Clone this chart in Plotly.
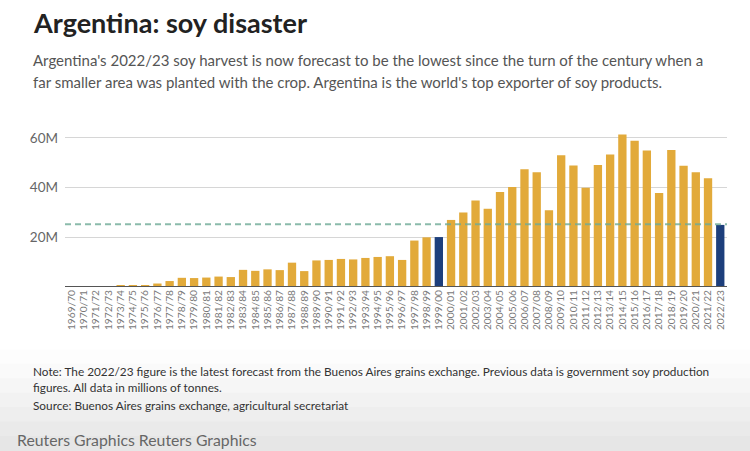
import plotly.graph_objects as go

seasons = ["1969/70","1970/71","1971/72","1972/73","1973/74","1974/75","1975/76","1976/77",
           "1977/78","1978/79","1979/80","1980/81","1981/82","1982/83","1983/84","1984/85",
           "1985/86","1986/87","1987/88","1988/89","1989/90","1990/91","1991/92","1992/93",
           "1993/94","1994/95","1995/96","1996/97","1997/98","1998/99","1999/00","2000/01",
           "2001/02","2002/03","2003/04","2004/05","2005/06","2006/07","2007/08","2008/09",
           "2009/10","2010/11","2011/12","2012/13","2013/14","2014/15","2015/16","2016/17",
           "2017/18","2018/19","2019/20","2020/21","2021/22","2022/23"]
production = [0.03, 0.06, 0.08, 0.1, 0.5, 0.5, 0.7, 1.4, 2.4, 3.7, 3.6, 3.8, 4.2, 4.0,
              6.9, 6.5, 7.1, 6.8, 9.8, 6.4, 10.7, 10.9, 11.3, 11.1, 11.7, 12.1, 12.4, 10.9,
              18.7, 20.0, 20.1, 27.0, 30.0, 34.8, 31.5, 38.2, 40.3, 47.4, 46.2, 30.9, 53.0,
              48.9, 40.0, 49.1, 53.3, 61.4, 58.9, 55.0, 37.8, 55.2, 48.8, 46.2, 43.8, 25.0]
highlight = ["1999/00", "2022/23"]
reference_level = 25.3
y_ticks = [20, 40, 60]
y_tick_labels = ["20M", "40M", "60M"]

GOLD = "#E2AA3A"
BLUE = "#1D3F7C"
colors = [BLUE if s in highlight else GOLD for s in seasons]

W, H = 750, 451
ML, MR, MT, MB = 65, 23, 133, 164
PW, PH = W - ML - MR, H - MT - MB

def px_x(x):
    return (x - ML) / PW

def px_y(y):
    return (H - MB - y) / PH

fig = go.Figure()
fig.add_trace(go.Bar(x=seasons, y=production, marker=dict(color=colors, line=dict(width=0)),
                     hoverinfo="x+y"))

FONT = "Lato"
fig.update_layout(
    width=W, height=H,
    margin=dict(l=ML, r=MR, t=MT, b=MB, autoexpand=False),
    paper_bgcolor="white", plot_bgcolor="white",
    bargap=0.32,
    showlegend=False,
    font=dict(family=FONT, color="#666"),
    xaxis=dict(type="category", range=[-0.55, 53.55], tickangle=-90,
               tickmode="array", tickvals=seasons, ticktext=seasons,
               tickfont=dict(size=10.2, color="#777", family=FONT),
               showgrid=False, ticks="", showline=False, zeroline=False, automargin=False),
    yaxis=dict(range=[0, 62], tickvals=y_ticks, ticktext=y_tick_labels,
               tickfont=dict(size=13.5, color="#666", family=FONT),
               showgrid=True, gridcolor="#d6d6d6", gridwidth=1,
               zeroline=False, showline=False, ticks="", ticklabelstandoff=6, automargin=False),
)

# bottom gradient band (screenshot background)
grays = ["#fdfdfd", "#fafafa", "#f6f6f6", "#f2f2f2", "#eeeeee", "#eaeaea", "#e6e6e6"]
y0 = 350
step = (H - y0) / len(grays)
for k, g in enumerate(grays):
    fig.add_shape(type="rect", xref="paper", yref="paper",
                  x0=px_x(0), x1=px_x(W), y0=px_y(y0 + (k + 1) * step), y1=px_y(y0 + k * step) + 0.004,
                  fillcolor=g, line=dict(width=0), layer="below")

# baseline
fig.add_shape(type="line", xref="paper", yref="y", x0=0, x1=1, y0=0, y1=0,
              line=dict(color="#555", width=2))
# dashed reference line
fig.add_shape(type="line", xref="paper", yref="y", x0=0, x1=1,
              y0=reference_level, y1=reference_level,
              line=dict(color="rgba(110,170,150,0.8)", width=2, dash="6px,4px"), layer="above")

def txtpx(x, y, s, size, color, bold=False):
    fig.add_annotation(xref="paper", yref="paper", x=px_x(x), y=px_y(y),
                       text=("<b>%s</b>" % s) if bold else s, showarrow=False,
                       xanchor="left", yanchor="middle",
                       font=dict(size=size, color=color, family=FONT), align="left")

txtpx(31, 22, "Argentina: soy disaster", 27, "#222", bold=True)
txtpx(31, 60, "Argentina's 2022/23 soy harvest is now forecast to be the lowest since the turn of the century when a", 15, "#555")
txtpx(31, 82, "far smaller area was planted with the crop. Argentina is the world's top exporter of soy products.", 15, "#555")
txtpx(31, 371, "Note: The 2022/23 figure is the latest forecast from the Buenos Aires grains exchange. Previous data is government soy production", 11.8, "#333")
txtpx(31, 387, "figures. All data in millions of tonnes.", 11.8, "#333")
txtpx(31, 405, "Source: Buenos Aires grains exchange, agricultural secretariat", 11.8, "#333")
txtpx(15, 439, "Reuters Graphics Reuters Graphics", 15.8, "#666")

fig.write_html("out.html", config={"displayModeBar": False},
               post_script="document.body.style.margin='0';document.body.style.overflow='hidden';")
